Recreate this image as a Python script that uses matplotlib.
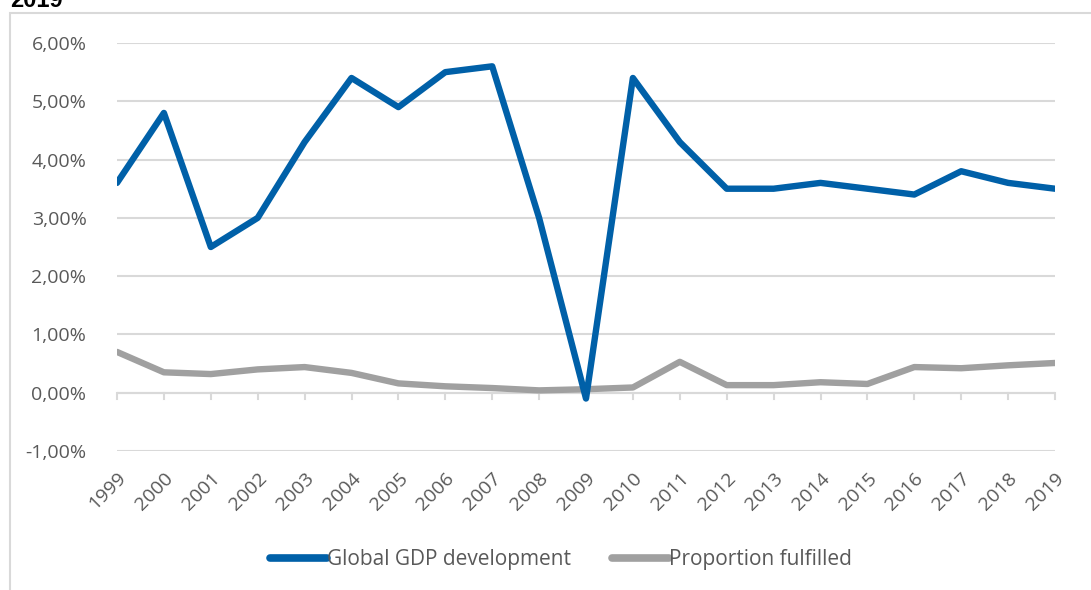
import matplotlib
matplotlib.use("Agg")
import matplotlib.pyplot as plt
from matplotlib.patches import Rectangle
from matplotlib.ticker import FuncFormatter, MultipleLocator

years = list(range(1999, 2020))
gdp = [3.6, 4.8, 2.5, 3.0, 4.3, 5.4, 4.9, 5.5, 5.6, 3.0, -0.1,
       5.4, 4.3, 3.5, 3.5, 3.6, 3.5, 3.4, 3.8, 3.6, 3.5]
fulfilled = [0.70, 0.35, 0.32, 0.40, 0.44, 0.34, 0.16, 0.11, 0.08, 0.04, 0.06,
             0.09, 0.53, 0.13, 0.13, 0.18, 0.15, 0.44, 0.42, 0.47, 0.51]
series_names = ["Global GDP development", "Proportion fulfilled"]
title_text = "2019"

plt.rcParams['font.family'] = ['Open Sans', 'DejaVu Sans']

W, H = 1091, 590
fig = plt.figure(figsize=(W / 100, H / 100), dpi=100)

# outer chart frame (partially cropped)
fig.patches.append(Rectangle((10 / W, -0.1), 1.2, 1.1 - 13 / H,
                             transform=fig.transFigure, fill=False,
                             edgecolor='#d9d9d9', linewidth=1.5))
fig.text(10 / W, 1 - 7 / H, title_text, fontsize=17, fontweight='bold',
         family=['Liberation Sans', 'DejaVu Sans'], color='black',
         va='baseline', ha='left')

ax = fig.add_axes([117 / W, 1 - 451 / H, (1055 - 117) / W, (451 - 43) / H])
ax.plot(years, gdp, color='#0060A8', linewidth=4.6, solid_joinstyle='round',
        solid_capstyle='round', label=series_names[0], zorder=4)
ax.plot(years, fulfilled, color='#A0A0A0', linewidth=4.6, solid_joinstyle='round',
        solid_capstyle='round', label=series_names[1], zorder=3)

ax.set_xlim(years[0], years[-1])
ax.set_ylim(-1, 6)
ax.yaxis.set_major_locator(MultipleLocator(1))
ax.yaxis.set_major_formatter(FuncFormatter(lambda v, p: f"{v:.2f}".replace('.', ',') + '%'))
ax.grid(axis='y', color='#d9d9d9', linewidth=1.5)
ax.set_axisbelow(True)
for s in ax.spines.values():
    s.set_visible(False)
ax.tick_params(axis='y', length=0, labelsize=14, labelcolor='#595959', pad=22)

ax.set_xticks(years)
ax.set_xticklabels([str(y) for y in years], rotation=45, ha='right',
                   rotation_mode='anchor', fontsize=14, color='#595959')
ax.tick_params(axis='x', length=0, pad=13)
# category ticks hanging from the zero line
ax.axhline(0, color='#d9d9d9', linewidth=1.5, zorder=1)
for y in years:
    ax.plot([y, y], [0, -0.1], color='#d9d9d9', linewidth=1.5, zorder=1,
            clip_on=False)

leg = fig.legend(loc='center', bbox_to_anchor=(561 / W, 1 - 560 / H), ncol=2,
                 frameon=False, fontsize=15, handlelength=2.7,
                 handletextpad=0.0, columnspacing=2.0)
for t in leg.get_texts():
    t.set_color('#595959')
for h in leg.legend_handles:
    h.set_linewidth(5.5)

fig.savefig('out.png', dpi=100)
